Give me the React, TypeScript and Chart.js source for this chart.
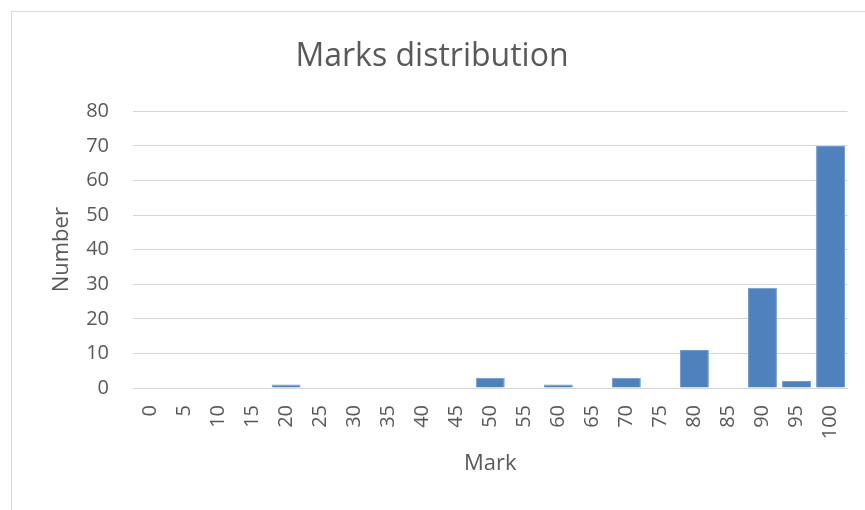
import React, { useEffect, useRef } from "react";
import { Chart, registerables } from "chart.js";

Chart.register(...registerables);

const categories = ["0", "5", "10", "15", "20", "25", "30", "35", "40", "45", "50", "55", "60", "65", "70", "75", "80", "85", "90", "95", "100"];
const counts = [0, 0, 0, 0, 1, 0, 0, 0, 0, 0, 3, 0, 1, 0, 3, 0, 11, 0, 29, 2, 70];
const yTicks = [0, 10, 20, 30, 40, 50, 60, 70, 80];

const FONT = "'Open Sans', Lato, sans-serif";
const TEXT = "#595959";
const GRID = "#d6d6d6";

export default function App() {
  const ref = useRef<HTMLCanvasElement | null>(null);

  useEffect(() => {
    if (!ref.current) return;
    const chart = new Chart(ref.current, {
      type: "bar",
      data: {
        labels: categories,
        datasets: [
          {
            label: "Number",
            data: counts,
            backgroundColor: "#4f81bd",
            borderColor: "#729bcc",
            borderWidth: 1,
            barPercentage: 0.85,
            categoryPercentage: 1,
          },
        ],
      },
      options: {
        animation: false,
        responsive: false,
        maintainAspectRatio: false,
        layout: { padding: { left: 0, right: 20, top: 0, bottom: 0 } },
        plugins: {
          legend: { display: false },
          tooltip: { enabled: false },
          title: {
            display: true,
            text: "Marks distribution",
            color: TEXT,
            font: { family: FONT, size: 32, weight: "normal", lineHeight: 1.2 },
            padding: { top: 26, bottom: 35 },
          },
        },
        scales: {
          x: {
            grid: { display: false, drawTicks: false },
            border: { display: true, color: GRID, width: 1 },
            ticks: {
              color: TEXT,
              font: { family: FONT, size: 20 },
              minRotation: 90,
              maxRotation: 90,
              padding: 17,
              autoSkip: false,
            },
            title: {
              display: true,
              text: "Mark",
              color: TEXT,
              font: { family: FONT, size: 22, lineHeight: 1.2 },
              padding: { top: 0, bottom: 34.8 },
            },
            afterFit: (scale: any) => {
              scale.height = 124;
            },
          },
          y: {
            min: 0,
            max: 80,
            grid: { color: GRID, lineWidth: 1, drawTicks: false },
            border: { display: false },
            afterBuildTicks: (scale: any) => {
              scale.ticks = yTicks.map((v) => ({ value: v }));
            },
            ticks: {
              color: TEXT,
              font: { family: FONT, size: 20 },
              padding: 24,
            },
            title: {
              display: true,
              text: "Number",
              color: TEXT,
              font: { family: FONT, size: 22, lineHeight: 1.2 },
              padding: { top: 36.8, bottom: 0 },
            },
            afterFit: (scale: any) => {
              scale.width = 121;
            },
          },
        },
      },
    });
    return () => chart.destroy();
  }, []);

  return (
    <div
      style={{
        position: "fixed",
        left: 11,
        top: 11,
        width: 870,
        height: 510,
        border: "1px solid #d9d9d9",
        background: "#ffffff",
      }}
    >
      <canvas ref={ref} width={860} height={500} style={{ display: "block", width: 860, height: 500 }} />
    </div>
  );
}
